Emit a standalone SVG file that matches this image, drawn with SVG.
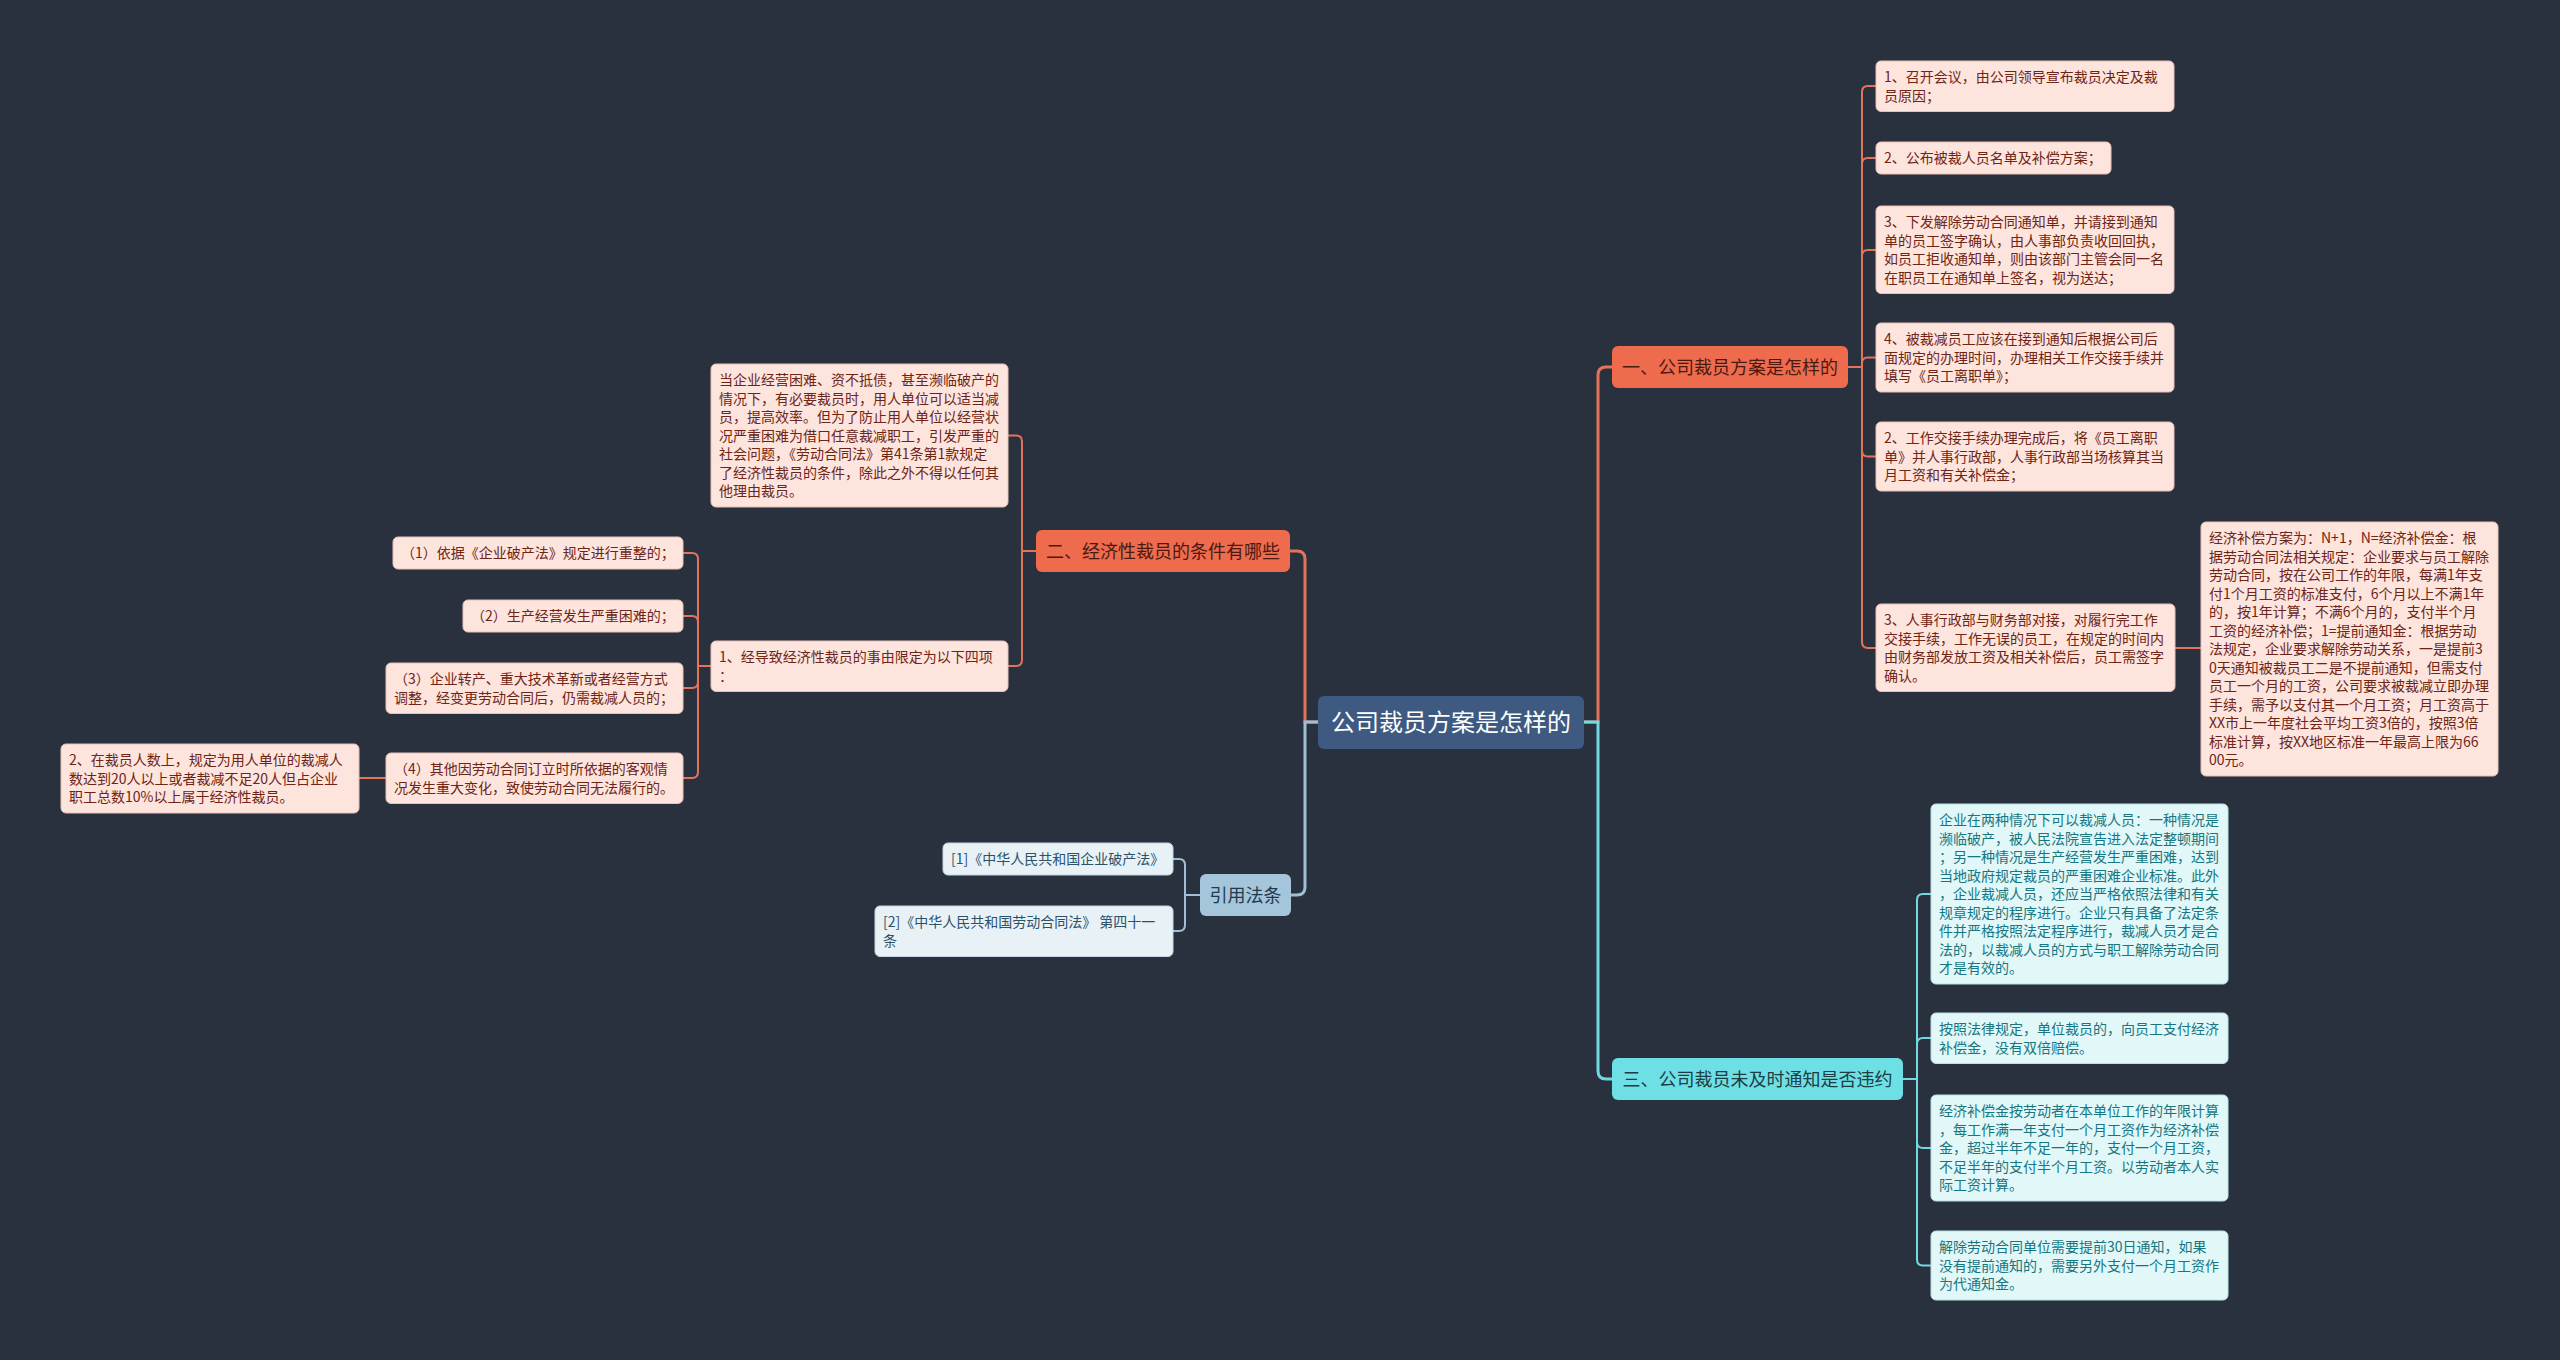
<svg xmlns="http://www.w3.org/2000/svg" width="2560" height="1360" viewBox="0 0 2560 1360">
<style>
text{font-family:"Noto Sans CJK SC","Noto Sans",sans-serif}
.bg{fill:#29313f}
.root rect{fill:#3e5a80}
.root text{fill:#ffffff;font-size:24px;text-anchor:middle}
.bo rect{fill:#ef6b4e}
.bo text{fill:#4a1a10;font-size:18px;text-anchor:middle}
.bc rect{fill:#6fdfe6}
.bc text{fill:#1b3d44;font-size:18px;text-anchor:middle}
.bs rect{fill:#a5c5da}
.bs text{fill:#1f3a4f;font-size:18px;text-anchor:middle}
.po rect{fill:#fde4dd;stroke:#e9c1b5;stroke-width:1}
.po text{fill:#6e2516;font-size:14px}
.pc rect{fill:#e1f7f8;stroke:#b8e3e6;stroke-width:1}
.pc text{fill:#17767f;font-size:14px}
.ps rect{fill:#e8f1f6;stroke:#c3d6e2;stroke-width:1}
.ps text{fill:#2c5169;font-size:14px}
.c path{fill:none;stroke-linecap:round}
.lo{stroke:#e3745b}
.lc{stroke:#72d8e2}
.ls{stroke:#a0bfd5}
.m{stroke-width:3}
.s{stroke-width:2}
</style>
<rect class="bg" x="0" y="0" width="2560" height="1360"/>
<g id="connectors" class="c">
<path class="lo m" d="M1584,722 H1598 V375 Q1598,367 1606,367 H1612"/>
<path class="lc m" d="M1584,722 H1598 V1071 Q1598,1079 1606,1079 H1612"/>
<path class="lo m" d="M1318,722 H1305 V559 Q1305,551 1297,551 H1290"/>
<path class="ls m" d="M1318,722 H1305 V887 Q1305,895 1297,895 H1291"/>
<path class="lo s" d="M1848,367 H1862 V92 Q1862,86 1868,86 H1876"/>
<path class="lo s" d="M1848,367 H1862 V164 Q1862,158 1868,158 H1876"/>
<path class="lo s" d="M1848,367 H1862 V256 Q1862,250 1868,250 H1876"/>
<path class="lo s" d="M1848,367 H1862 V363 Q1862,357.5 1867.5,357.5 H1876"/>
<path class="lo s" d="M1848,367 H1862 V450.5 Q1862,456.5 1868,456.5 H1876"/>
<path class="lo s" d="M1848,367 H1862 V642 Q1862,648 1868,648 H1876"/>
<path class="lo s" d="M2175,648 H2201"/>
<path class="lc s" d="M1903,1079 H1917 V900 Q1917,894 1923,894 H1931"/>
<path class="lc s" d="M1903,1079 H1917 V1044 Q1917,1038 1923,1038 H1931"/>
<path class="lc s" d="M1903,1079 H1917 V1142 Q1917,1148 1923,1148 H1931"/>
<path class="lc s" d="M1903,1079 H1917 V1259.5 Q1917,1265.5 1923,1265.5 H1931"/>
<path class="lo s" d="M1036,551 H1022 V441.5 Q1022,435.5 1016,435.5 H1008"/>
<path class="lo s" d="M1036,551 H1022 V660 Q1022,666 1016,666 H1008"/>
<path class="lo s" d="M711,666 H698 V559 Q698,553 692,553 H683"/>
<path class="lo s" d="M711,666 H698 V622 Q698,616 692,616 H683"/>
<path class="lo s" d="M711,666 H698 V682 Q698,688 692,688 H683"/>
<path class="lo s" d="M711,666 H698 V772 Q698,778 692,778 H683"/>
<path class="lo s" d="M386,778 H359"/>
<path class="ls s" d="M1200,895 H1185 V865 Q1185,859 1179,859 H1173"/>
<path class="ls s" d="M1200,895 H1185 V925 Q1185,931 1179,931 H1173"/>
</g>
<g id="root" class="root"><rect x="1318" y="696" width="266" height="53" rx="6"/><text x="1451" y="730.5">公司裁员方案是怎样的</text></g>
<g id="b1" class="bo"><rect x="1612" y="346" width="236" height="42" rx="6"/><text x="1730" y="373.5">一、公司裁员方案是怎样的</text></g>
<g id="b2" class="bo"><rect x="1036" y="530" width="254" height="42" rx="6"/><text x="1163" y="557.5">二、经济性裁员的条件有哪些</text></g>
<g id="b3" class="bc"><rect x="1612" y="1058" width="291" height="42" rx="6"/><text x="1757.5" y="1085.5">三、公司裁员未及时通知是否违约</text></g>
<g id="b4" class="bs"><rect x="1200" y="874" width="91" height="42" rx="6"/><text x="1245.5" y="901.5">引用法条</text></g>
<g id="n1" class="po"><rect x="1876" y="61" width="298" height="50.5" rx="5"/><text y="82"><tspan x="1884">1、召开会议，由公司领导宣布裁员决定及裁</tspan><tspan x="1884" dy="18.5">员原因；</tspan></text></g>
<g id="n2" class="po"><rect x="1876" y="142" width="235" height="32" rx="5"/><text y="163"><tspan x="1884">2、公布被裁人员名单及补偿方案；</tspan></text></g>
<g id="n3" class="po"><rect x="1876" y="206" width="298" height="87.5" rx="5"/><text y="227"><tspan x="1884">3、下发解除劳动合同通知单，并请接到通知</tspan><tspan x="1884" dy="18.5">单的员工签字确认，由人事部负责收回回执，</tspan><tspan x="1884" dy="18.5">如员工拒收通知单，则由该部门主管会同一名</tspan><tspan x="1884" dy="18.5">在职员工在通知单上签名，视为送达；</tspan></text></g>
<g id="n4" class="po"><rect x="1876" y="323" width="298" height="69" rx="5"/><text y="344"><tspan x="1884">4、被裁减员工应该在接到通知后根据公司后</tspan><tspan x="1884" dy="18.5">面规定的办理时间，办理相关工作交接手续并</tspan><tspan x="1884" dy="18.5">填写《员工离职单》；</tspan></text></g>
<g id="n5" class="po"><rect x="1876" y="422" width="298" height="69" rx="5"/><text y="443"><tspan x="1884">2、工作交接手续办理完成后，将《员工离职</tspan><tspan x="1884" dy="18.5">单》并人事行政部，人事行政部当场核算其当</tspan><tspan x="1884" dy="18.5">月工资和有关补偿金；</tspan></text></g>
<g id="n6" class="po"><rect x="1876" y="604" width="299" height="87.5" rx="5"/><text y="625"><tspan x="1884">3、人事行政部与财务部对接，对履行完工作</tspan><tspan x="1884" dy="18.5">交接手续，工作无误的员工，在规定的时间内</tspan><tspan x="1884" dy="18.5">由财务部发放工资及相关补偿后，员工需签字</tspan><tspan x="1884" dy="18.5">确认。</tspan></text></g>
<g id="n6a" class="po"><rect x="2201" y="522" width="297" height="254" rx="5"/><text y="543"><tspan x="2209">经济补偿方案为：N+1，N=经济补偿金：根</tspan><tspan x="2209" dy="18.5">据劳动合同法相关规定：企业要求与员工解除</tspan><tspan x="2209" dy="18.5">劳动合同，按在公司工作的年限，每满1年支</tspan><tspan x="2209" dy="18.5">付1个月工资的标准支付，6个月以上不满1年</tspan><tspan x="2209" dy="18.5">的，按1年计算；不满6个月的，支付半个月</tspan><tspan x="2209" dy="18.5">工资的经济补偿；1=提前通知金：根据劳动</tspan><tspan x="2209" dy="18.5">法规定，企业要求解除劳动关系，一是提前3</tspan><tspan x="2209" dy="18.5">0天通知被裁员工二是不提前通知，但需支付</tspan><tspan x="2209" dy="18.5">员工一个月的工资，公司要求被裁减立即办理</tspan><tspan x="2209" dy="18.5">手续，需予以支付其一个月工资；月工资高于</tspan><tspan x="2209" dy="18.5">XX市上一年度社会平均工资3倍的，按照3倍</tspan><tspan x="2209" dy="18.5">标准计算，按XX地区标准一年最高上限为66</tspan><tspan x="2209" dy="18.5">00元。</tspan></text></g>
<g id="c1" class="pc"><rect x="1931" y="804" width="297" height="180" rx="5"/><text y="825"><tspan x="1939">企业在两种情况下可以裁减人员：一种情况是</tspan><tspan x="1939" dy="18.5">濒临破产，被人民法院宣告进入法定整顿期间</tspan><tspan x="1939" dy="18.5">；另一种情况是生产经营发生严重困难，达到</tspan><tspan x="1939" dy="18.5">当地政府规定裁员的严重困难企业标准。此外</tspan><tspan x="1939" dy="18.5">，企业裁减人员，还应当严格依照法律和有关</tspan><tspan x="1939" dy="18.5">规章规定的程序进行。企业只有具备了法定条</tspan><tspan x="1939" dy="18.5">件并严格按照法定程序进行，裁减人员才是合</tspan><tspan x="1939" dy="18.5">法的，以裁减人员的方式与职工解除劳动合同</tspan><tspan x="1939" dy="18.5">才是有效的。</tspan></text></g>
<g id="c2" class="pc"><rect x="1931" y="1013" width="297" height="50.5" rx="5"/><text y="1034"><tspan x="1939">按照法律规定，单位裁员的，向员工支付经济</tspan><tspan x="1939" dy="18.5">补偿金，没有双倍赔偿。</tspan></text></g>
<g id="c3" class="pc"><rect x="1931" y="1095" width="297" height="106" rx="5"/><text y="1116"><tspan x="1939">经济补偿金按劳动者在本单位工作的年限计算</tspan><tspan x="1939" dy="18.5">，每工作满一年支付一个月工资作为经济补偿</tspan><tspan x="1939" dy="18.5">金，超过半年不足一年的，支付一个月工资，</tspan><tspan x="1939" dy="18.5">不足半年的支付半个月工资。以劳动者本人实</tspan><tspan x="1939" dy="18.5">际工资计算。</tspan></text></g>
<g id="c4" class="pc"><rect x="1931" y="1231" width="297" height="69" rx="5"/><text y="1252"><tspan x="1939">解除劳动合同单位需要提前30日通知，如果</tspan><tspan x="1939" dy="18.5">没有提前通知的，需要另外支付一个月工资作</tspan><tspan x="1939" dy="18.5">为代通知金。</tspan></text></g>
<g id="a" class="po"><rect x="711" y="364" width="297" height="143" rx="5"/><text y="385"><tspan x="719">当企业经营困难、资不抵债，甚至濒临破产的</tspan><tspan x="719" dy="18.5">情况下，有必要裁员时，用人单位可以适当减</tspan><tspan x="719" dy="18.5">员，提高效率。但为了防止用人单位以经营状</tspan><tspan x="719" dy="18.5">况严重困难为借口任意裁减职工，引发严重的</tspan><tspan x="719" dy="18.5">社会问题，《劳动合同法》第41条第1款规定</tspan><tspan x="719" dy="18.5">了经济性裁员的条件，除此之外不得以任何其</tspan><tspan x="719" dy="18.5">他理由裁员。</tspan></text></g>
<g id="b" class="po"><rect x="711" y="641" width="297" height="50.5" rx="5"/><text y="662"><tspan x="719">1、经导致经济性裁员的事由限定为以下四项</tspan><tspan x="719" dy="18.5">：</tspan></text></g>
<g id="b_1" class="po"><rect x="393" y="537" width="290" height="32" rx="5"/><text y="558"><tspan x="401">（1）依据《企业破产法》规定进行重整的；</tspan></text></g>
<g id="b_2" class="po"><rect x="463" y="600" width="220" height="32" rx="5"/><text y="621"><tspan x="471">（2）生产经营发生严重困难的；</tspan></text></g>
<g id="b_3" class="po"><rect x="386" y="663" width="297" height="50.5" rx="5"/><text y="684"><tspan x="394">（3）企业转产、重大技术革新或者经营方式</tspan><tspan x="394" dy="18.5">调整，经变更劳动合同后，仍需裁减人员的；</tspan></text></g>
<g id="b_4" class="po"><rect x="386" y="753" width="297" height="50.5" rx="5"/><text y="774"><tspan x="394">（4）其他因劳动合同订立时所依据的客观情</tspan><tspan x="394" dy="18.5">况发生重大变化，致使劳动合同无法履行的。</tspan></text></g>
<g id="b_4a" class="po"><rect x="61" y="744" width="298" height="69" rx="5"/><text y="765"><tspan x="69">2、在裁员人数上，规定为用人单位的裁减人</tspan><tspan x="69" dy="18.5">数达到20人以上或者裁减不足20人但占企业</tspan><tspan x="69" dy="18.5">职工总数10%以上属于经济性裁员。</tspan></text></g>
<g id="r1" class="ps"><rect x="943" y="843" width="230" height="32" rx="5"/><text y="864"><tspan x="951">[1]《中华人民共和国企业破产法》</tspan></text></g>
<g id="r2" class="ps"><rect x="875" y="906" width="298" height="50.5" rx="5"/><text y="927"><tspan x="883">[2]《中华人民共和国劳动合同法》 第四十一</tspan><tspan x="883" dy="18.5">条</tspan></text></g>
</svg>
